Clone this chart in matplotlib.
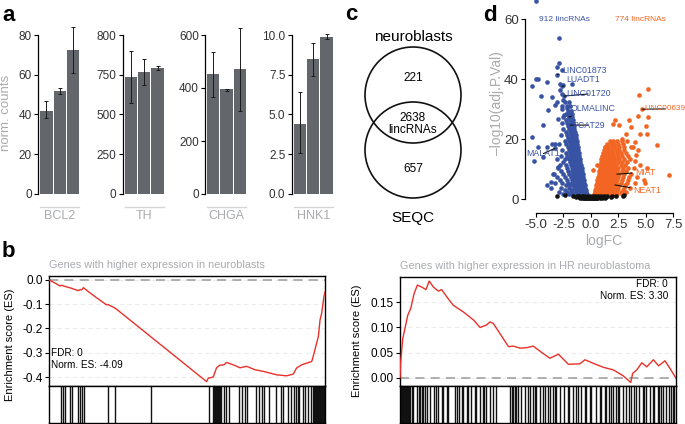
import numpy as np
import matplotlib
matplotlib.use("Agg")
import matplotlib.pyplot as plt
from matplotlib.patches import Circle

plt.rcParams['font.family'] = ['Liberation Sans', 'DejaVu Sans']

# Data: panel a (norm. counts, three samples per marker gene)
genes = ["BCL2", "TH", "CHGA", "HNK1"]
bcl2_counts = [42.0, 52.0, 72.5]
bcl2_lo = [38.0, 50.5, 61.0]
bcl2_hi = [47.0, 53.5, 84.0]
th_counts = [736, 753, 758]
th_lo = [573, 685, 756]
th_hi = [780, 770, 761]
chga_counts = [453, 395, 472]
chga_lo = [366, 390, 313]
chga_hi = [536, 398, 626]
hnk1_counts = [4.4, 8.5, 9.9]
hnk1_lo = [2.6, 7.45, 9.75]
hnk1_hi = [6.4, 9.5, 10.05]

# Data: panel b (running enrichment score vs gene rank out of 1000)
nb_rank = [0, 20, 40, 45, 58, 80, 100, 106, 113, 118, 125, 142, 173, 209, 213,
           239, 245, 571, 577, 595, 607, 619, 634, 643, 668, 692, 716, 746, 777,
           825, 861, 885, 897, 915, 952, 957, 976, 982, 988, 996, 1000]
nb_es = [0.0, -0.012, -0.025, -0.022, -0.027, -0.034, -0.042, -0.044, -0.040,
         -0.041, -0.032, -0.048, -0.074, -0.103, -0.101, -0.116, -0.121, -0.419,
         -0.405, -0.400, -0.362, -0.351, -0.350, -0.340, -0.350, -0.362, -0.356,
         -0.370, -0.377, -0.391, -0.395, -0.388, -0.363, -0.350, -0.336, -0.316,
         -0.233, -0.165, -0.137, -0.069, -0.050]
nb_hits = [42, 51, 57, 75, 82, 105, 112, 121, 125, 212, 238, 370, 578, 593, 598,
           601, 604, 607, 610, 613, 616, 619, 623, 635, 641, 651, 689, 701, 711,
           717, 750, 762, 771, 780, 798, 822, 840, 849, 865, 877, 889, 895, 901,
           907, 919, 929, 937, 949, 958, 961, 964, 967, 970, 973, 976, 979, 982,
           985, 988, 991, 994, 997, 1000]

hr_rank = [0, 2, 10, 18, 28, 39, 51, 63, 79, 94, 106, 121, 139, 151, 169, 193,
           229, 266, 290, 314, 326, 338, 362, 393, 411, 435, 459, 483, 507, 543,
           574, 610, 652, 670, 700, 737, 773, 809, 836, 843, 858, 876, 894, 918,
           937, 960, 978, 996, 1000]
hr_es = [0.0, 0.029, 0.078, 0.098, 0.124, 0.138, 0.167, 0.184, 0.180, 0.175,
         0.192, 0.180, 0.172, 0.175, 0.161, 0.144, 0.131, 0.115, 0.100, 0.105,
         0.111, 0.108, 0.088, 0.062, 0.063, 0.059, 0.060, 0.063, 0.053, 0.039,
         0.047, 0.027, 0.028, 0.036, 0.029, 0.021, 0.016, 0.004, -0.009, 0.009,
         0.016, 0.030, 0.022, 0.036, 0.024, 0.034, 0.019, 0.003, 0.0]
hr_hits = [3, 6, 10, 13, 17, 21, 24, 28, 31, 36, 42, 48, 63, 68, 72, 78, 85, 90,
           99, 108, 123, 130, 139, 151, 157, 169, 175, 199, 205, 215, 223, 229,
           241, 247, 259, 271, 277, 289, 299, 304, 313, 325, 337, 349, 398, 404,
           410, 416, 422, 428, 440, 452, 462, 470, 482, 488, 494, 506, 518, 524,
           536, 542, 554, 560, 566, 578, 596, 609, 614, 627, 639, 645, 657, 669,
           675, 687, 693, 711, 723, 729, 741, 747, 759, 765, 771, 783, 789, 795,
           807, 819, 831, 837, 849, 855, 867, 880, 885, 892, 904, 916, 922, 934,
           940, 946, 952, 964, 976, 982, 988, 994]

# Data: panel c
venn_sets = ["neuroblasts", "SEQC"]
venn_counts = [221, 2638, 657]

# Data: panel d (logFC, -log10 adj. p)
blue_pts = np.array([
    [-5.0, 66.0], [-2.92, 53.9], [-2.92, 45.4], [-3.13, 44.1], [-3.05, 41.6], [-2.67, 43.0],
    [-4.8, 40.0], [-5.0, 40.2], [-5.4, 37.7], [-4.04, 39.0], [-2.83, 38.5], [-2.58, 38.2],
    [-2.6, 37.6], [-1.76, 38.5], [-4.5, 34.3], [-3.58, 34.1], [-2.83, 36.3], [-2.67, 35.2],
    [-2.45, 34.4], [-3.13, 32.4], [-2.58, 33.0], [-3.88, 29.7], [-3.28, 31.3], [-2.67, 30.2],
    [-2.16, 30.5], [-2.46, 28.0], [-2.0, 27.4], [-3.0, 26.6], [-4.35, 24.7], [-1.9, 24.7],
    [-5.4, 20.8], [-4.8, 17.4], [-4.04, 17.4], [-3.58, 18.5], [-5.17, 12.7], [-4.35, 14.2],
    [-3.28, 18.5], [-3.67, 5.8], [-3.43, 8.5], [-3.0, 10.8], [-4.04, 4.7], [-3.3, 16.9],
    [-0.35, 1.6], [-0.5, 1.6], [-0.65, 1.6], [-0.8, 1.6], [-0.95, 1.6], [-1.1, 1.6], [-1.3, 1.6], [-1.6, 1.6], [-2.0, 1.6], [-2.5, 1.6],
    [-0.4, 2.3], [-0.55, 2.3], [-0.7, 2.3], [-0.85, 2.3], [-1.0, 2.3], [-1.15, 2.3], [-1.35, 2.3], [-1.7, 2.3], [-2.2, 2.3], [-2.9, 2.3],
    [-0.45, 3.0], [-0.6, 3.0], [-0.75, 3.0], [-0.9, 3.0], [-1.05, 3.0], [-1.2, 3.0], [-1.4, 3.0], [-1.8, 3.0], [-2.4, 3.0],
    [-0.5, 3.8], [-0.65, 3.8], [-0.8, 3.8], [-0.95, 3.8], [-1.1, 3.8], [-1.3, 3.8], [-1.55, 3.8], [-2.0, 3.8], [-2.7, 3.8], [-3.6, 3.8],
    [-0.55, 4.6], [-0.7, 4.6], [-0.85, 4.6], [-1.0, 4.6], [-1.15, 4.6], [-1.35, 4.6], [-1.6, 4.6], [-1.9, 4.6], [-2.3, 4.6],
    [-0.6, 5.5], [-0.75, 5.5], [-0.9, 5.5], [-1.05, 5.5], [-1.2, 5.5], [-1.4, 5.5], [-1.7, 5.5], [-2.1, 5.5], [-2.6, 5.5], [-3.3, 5.5],
    [-0.65, 6.5], [-0.8, 6.5], [-0.95, 6.5], [-1.1, 6.5], [-1.25, 6.5], [-1.45, 6.5], [-1.75, 6.5], [-2.2, 6.5], [-2.8, 6.5],
    [-0.7, 7.5], [-0.85, 7.5], [-1.0, 7.5], [-1.15, 7.5], [-1.3, 7.5], [-1.5, 7.5], [-1.8, 7.5], [-2.4, 7.5], [-3.1, 7.5],
    [-0.75, 8.5], [-0.9, 8.5], [-1.05, 8.5], [-1.2, 8.5], [-1.4, 8.5], [-1.6, 8.5], [-1.95, 8.5], [-2.5, 8.5], [-3.4, 8.5],
    [-0.8, 9.5], [-0.95, 9.5], [-1.1, 9.5], [-1.25, 9.5], [-1.45, 9.5], [-1.7, 9.5], [-2.1, 9.5], [-2.7, 9.5],
    [-0.85, 10.5], [-1.0, 10.5], [-1.15, 10.5], [-1.3, 10.5], [-1.5, 10.5], [-1.75, 10.5], [-2.2, 10.5], [-3.0, 10.5],
    [-0.9, 11.5], [-1.05, 11.5], [-1.2, 11.5], [-1.35, 11.5], [-1.55, 11.5], [-1.85, 11.5], [-2.3, 11.5], [-2.8, 11.5],
    [-0.95, 12.5], [-1.1, 12.5], [-1.25, 12.5], [-1.4, 12.5], [-1.6, 12.5], [-1.9, 12.5], [-2.5, 12.5],
    [-1.0, 13.5], [-1.15, 13.5], [-1.3, 13.5], [-1.5, 13.5], [-1.7, 13.5], [-2.0, 13.5], [-2.4, 13.5], [-3.1, 13.5],
    [-1.05, 14.5], [-1.2, 14.5], [-1.35, 14.5], [-1.55, 14.5], [-1.8, 14.5], [-2.2, 14.5], [-2.7, 14.5],
    [-1.1, 15.5], [-1.25, 15.5], [-1.45, 15.5], [-1.65, 15.5], [-1.9, 15.5], [-2.3, 15.5],
    [-1.15, 16.5], [-1.3, 16.5], [-1.5, 16.5], [-1.7, 16.5], [-2.0, 16.5], [-2.6, 16.5],
    [-1.2, 17.5], [-1.35, 17.5], [-1.55, 17.5], [-1.8, 17.5], [-2.1, 17.5],
    [-1.25, 18.5], [-1.45, 18.5], [-1.65, 18.5], [-1.9, 18.5], [-2.3, 18.5], [-2.9, 18.5],
    [-1.3, 19.5], [-1.5, 19.5], [-1.7, 19.5], [-2.0, 19.5], [-2.4, 19.5],
    [-1.35, 20.5], [-1.55, 20.5], [-1.8, 20.5], [-2.1, 20.5],
    [-1.4, 21.5], [-1.6, 21.5], [-1.85, 21.5], [-2.2, 21.5], [-2.7, 21.5],
    [-1.45, 22.5], [-1.65, 22.5], [-1.9, 22.5], [-2.3, 22.5],
    [-1.5, 23.5], [-1.7, 23.5], [-1.95, 23.5], [-2.5, 23.5],
    [-1.55, 24.5], [-1.8, 24.5], [-2.05, 24.5],
    [-1.6, 25.5], [-1.85, 25.5], [-2.2, 25.5], [-2.6, 25.5],
    [-1.65, 26.5], [-1.9, 26.5], [-2.3, 26.5],
    [-1.7, 27.5], [-1.95, 27.5], [-2.5, 27.5],
    [-1.75, 28.5], [-2.0, 28.5], [-2.3, 28.5],
    [-1.8, 29.5], [-2.1, 29.5],
    [-1.9, 31.0], [-2.2, 31.0], [-2.6, 31.0],
    [-2.0, 32.5], [-2.4, 32.5],
])

orange_pts = np.array([
    [5.17, 36.9], [4.41, 34.7], [4.68, 30.0], [5.22, 27.4], [4.3, 27.6], [2.19, 26.3],
    [1.98, 25.2], [2.6, 24.7], [3.65, 24.2], [3.5, 26.3], [5.0, 24.3], [4.47, 21.7],
    [5.07, 21.7], [5.99, 18.0], [7.14, 8.0], [4.8, 6.3], [4.95, 5.2], [3.16, 21.7],
    [2.8, 20.0], [3.99, 19.0], [4.14, 14.7], [3.99, 12.8], [4.47, 11.4], [5.07, 10.3],
    [1.28, 17.4], [1.58, 15.8], [0.52, 11.3], [0.21, 9.7], [4.3, 16.5], [3.8, 17.5],
    [0.3, 1.6], [0.45, 1.6], [0.6, 1.6], [0.75, 1.6], [0.9, 1.6], [1.05, 1.6], [1.2, 1.6], [1.4, 1.6], [1.6, 1.6], [1.8, 1.6], [2.1, 1.6], [2.4, 1.6], [2.8, 1.6],
    [0.35, 2.3], [0.5, 2.3], [0.65, 2.3], [0.8, 2.3], [0.95, 2.3], [1.1, 2.3], [1.3, 2.3], [1.5, 2.3], [1.7, 2.3], [2.0, 2.3], [2.3, 2.3], [2.7, 2.3], [3.2, 2.3],
    [0.4, 3.0], [0.55, 3.0], [0.7, 3.0], [0.85, 3.0], [1.0, 3.0], [1.15, 3.0], [1.35, 3.0], [1.55, 3.0], [1.8, 3.0], [2.05, 3.0], [2.4, 3.0], [2.9, 3.0],
    [0.45, 3.8], [0.6, 3.8], [0.75, 3.8], [0.9, 3.8], [1.05, 3.8], [1.2, 3.8], [1.4, 3.8], [1.6, 3.8], [1.85, 3.8], [2.1, 3.8], [2.5, 3.8], [3.0, 3.8], [3.6, 3.8],
    [0.5, 4.6], [0.65, 4.6], [0.8, 4.6], [0.95, 4.6], [1.1, 4.6], [1.3, 4.6], [1.5, 4.6], [1.7, 4.6], [1.95, 4.6], [2.2, 4.6], [2.6, 4.6], [3.1, 4.6],
    [0.55, 5.5], [0.7, 5.5], [0.85, 5.5], [1.0, 5.5], [1.15, 5.5], [1.35, 5.5], [1.55, 5.5], [1.75, 5.5], [2.0, 5.5], [2.3, 5.5], [2.7, 5.5], [3.3, 5.5], [4.0, 5.5],
    [0.6, 6.5], [0.75, 6.5], [0.9, 6.5], [1.05, 6.5], [1.2, 6.5], [1.4, 6.5], [1.6, 6.5], [1.85, 6.5], [2.1, 6.5], [2.4, 6.5], [2.8, 6.5], [3.4, 6.5],
    [0.65, 7.5], [0.8, 7.5], [0.95, 7.5], [1.1, 7.5], [1.3, 7.5], [1.5, 7.5], [1.7, 7.5], [1.95, 7.5], [2.2, 7.5], [2.5, 7.5], [2.9, 7.5], [3.5, 7.5], [4.2, 7.5],
    [0.7, 8.5], [0.85, 8.5], [1.0, 8.5], [1.15, 8.5], [1.35, 8.5], [1.55, 8.5], [1.8, 8.5], [2.0, 8.5], [2.3, 8.5], [2.6, 8.5], [3.0, 8.5], [3.7, 8.5],
    [0.75, 9.5], [0.9, 9.5], [1.05, 9.5], [1.2, 9.5], [1.4, 9.5], [1.6, 9.5], [1.85, 9.5], [2.1, 9.5], [2.4, 9.5], [2.8, 9.5], [3.2, 9.5],
    [0.8, 10.5], [0.95, 10.5], [1.1, 10.5], [1.3, 10.5], [1.5, 10.5], [1.7, 10.5], [1.95, 10.5], [2.2, 10.5], [2.5, 10.5], [2.9, 10.5], [3.4, 10.5], [3.9, 10.5],
    [0.85, 11.5], [1.0, 11.5], [1.2, 11.5], [1.4, 11.5], [1.6, 11.5], [1.8, 11.5], [2.05, 11.5], [2.3, 11.5], [2.7, 11.5], [3.1, 11.5],
    [0.9, 12.5], [1.05, 12.5], [1.25, 12.5], [1.45, 12.5], [1.7, 12.5], [1.9, 12.5], [2.15, 12.5], [2.45, 12.5], [2.8, 12.5], [3.3, 12.5],
    [0.95, 13.5], [1.15, 13.5], [1.35, 13.5], [1.55, 13.5], [1.75, 13.5], [2.0, 13.5], [2.3, 13.5], [2.6, 13.5], [3.0, 13.5], [3.6, 13.5],
    [1.0, 14.5], [1.2, 14.5], [1.4, 14.5], [1.65, 14.5], [1.9, 14.5], [2.15, 14.5], [2.45, 14.5], [2.8, 14.5], [3.4, 14.5],
    [1.1, 15.5], [1.3, 15.5], [1.55, 15.5], [1.8, 15.5], [2.05, 15.5], [2.35, 15.5], [2.7, 15.5], [3.2, 15.5],
    [1.2, 16.5], [1.45, 16.5], [1.7, 16.5], [1.95, 16.5], [2.25, 16.5], [2.6, 16.5], [3.0, 16.5],
    [1.3, 17.5], [1.6, 17.5], [1.9, 17.5], [2.2, 17.5], [2.55, 17.5], [3.0, 17.5], [3.7, 17.5],
    [1.5, 18.5], [1.8, 18.5], [2.1, 18.5], [2.45, 18.5], [2.9, 18.5],
    [1.7, 19.5], [2.0, 19.5], [2.4, 19.5], [2.8, 19.5], [3.3, 19.5],
])

black_pts = np.array([
    [-0.6, 0.2], [-0.45, 0.2], [-0.3, 0.2], [-0.15, 0.2], [0.0, 0.2], [0.15, 0.2], [0.3, 0.2], [0.45, 0.2], [0.6, 0.2],
    [-1.0, 0.5], [-0.8, 0.5], [-0.6, 0.5], [-0.4, 0.5], [-0.2, 0.5], [0.0, 0.5], [0.2, 0.5], [0.4, 0.5], [0.6, 0.5], [0.8, 0.5], [1.0, 0.5], [1.3, 0.5],
    [-1.4, 0.8], [-1.1, 0.8], [-0.9, 0.8], [-0.7, 0.8], [-0.5, 0.8], [-0.3, 0.8], [-0.1, 0.8], [0.1, 0.8], [0.3, 0.8], [0.5, 0.8], [0.7, 0.8], [0.9, 0.8], [1.1, 0.8], [1.4, 0.8], [1.8, 0.8],
    [-1.6, 1.1], [-1.3, 1.1], [-1.05, 1.1], [-0.85, 1.1], [-0.6, 1.1], [-0.35, 1.1], [-0.1, 1.1], [0.15, 1.1], [0.4, 1.1], [0.65, 1.1], [0.9, 1.1], [1.2, 1.1], [1.5, 1.1], [1.9, 1.1], [2.3, 1.1], [2.9, 1.1],
    [-3.13, 1.0], [-2.4, 1.2], [3.0, 1.3],
])

blue_labels = ["LINC01873", "LUADT1", "LINC01720", "OLMALINC", "PCAT29", "MALAT1"]
blue_label_pts = [(-3.05, 41.6), (-2.6, 37.6), (-2.45, 34.4), (-2.0, 27.4), (-1.9, 24.7), (-3.3, 16.9)]
blue_label_txt = [(-2.65, 43.0), (-2.2, 39.9), (-2.28, 35.1), (-1.82, 30.1), (-1.73, 24.7), (-5.85, 15.2)]
orange_labels = ["LINC00639", "MIAT", "NEAT1"]
orange_label_pts = [(4.68, 30.0), (2.37, 8.3), (2.19, 4.7)]
orange_label_txt = [(4.9, 30.1), (4.0, 9.0), (3.83, 2.8)]
n_down, n_up = 912, 774

BAR_GREY = "#63666a"
LIGHT = "#a9abae"
BLUE = "#3953a4"
ORANGE = "#f26522"
RED = "#e8312a"
W, H = 685, 424


def px_axes(fig, l, t, r, b):
    """Axes placed by pixel box of the 685x424 canvas."""
    return fig.add_axes([l / W, 1 - b / H, (r - l) / W, (b - t) / H])


def bar_panel(fig, spine_x, gene, vals, lo, hi, ticks, labels, top):
    ax = px_axes(fig, spine_x, 35, spine_x + 42.3, 194)
    x = np.arange(3)
    ax.bar(x, vals, width=0.93, color=BAR_GREY)
    yerr = [np.subtract(vals, lo), np.subtract(hi, vals)]
    eb = ax.errorbar(x, vals, yerr=yerr, fmt='none', ecolor='#1a1a1a',
                     elinewidth=0.7, capsize=1.3, capthick=0.7)
    for a in list(eb[1]) + list(eb[2]):
        a.set_clip_on(False)
    ax.set_xlim(-0.61, 2.55)
    ax.set_ylim(0, top)
    ax.set_yticks(ticks)
    ax.set_yticklabels(labels)
    for s in ["top", "right"]:
        ax.spines[s].set_visible(False)
    ax.spines["left"].set_bounds(0, top)
    ax.spines["left"].set_linewidth(0.9)
    ax.spines["bottom"].set_position(("outward", 9.3))
    ax.spines["bottom"].set_bounds(-0.465, 2.465)
    ax.spines["bottom"].set_color("#d4d5d6")
    ax.spines["bottom"].set_linewidth(1.0)
    ax.set_xticks([1])
    ax.set_xticklabels([gene])
    ax.tick_params(axis="x", length=0, pad=2.5, labelsize=9, labelcolor=LIGHT)
    ax.tick_params(axis="y", length=3, width=0.8, pad=1.5, labelsize=8.5,
                   labelcolor="#333333")
    return ax


def gsea_panel(fig, box, ranks, es, hits, ylim, yticks, fmt, title):
    l, t, r, b, bb = box
    ax = px_axes(fig, l, t, r, b)
    ax.plot(ranks, es, color=RED, lw=1.0, zorder=3)
    ax.axhline(0, color="#9a9a9a", lw=1.1, ls=(0, (6, 4)), zorder=2)
    ax.set_xlim(0, 1000)
    ax.set_ylim(*ylim)
    ax.set_yticks(yticks)
    ax.set_yticklabels([fmt % v for v in yticks])
    ax.yaxis.grid(True, color="#ececec", lw=0.8, ls=(0, (4, 3)))
    ax.set_axisbelow(True)
    ax.set_xticks([])
    ax.tick_params(axis="y", length=3, width=0.8, pad=1.5, labelsize=8.5)
    ax.set_title(title, loc="left", fontsize=7.8, color=LIGHT, pad=6)
    for s in ax.spines.values():
        s.set_linewidth(1.0)
    axb = px_axes(fig, l, b, r, bb)
    axb.vlines(hits, 0, 1, color="#111111", lw=1.0)
    axb.set_xlim(0, 1000)
    axb.set_ylim(0, 1)
    axb.set_xticks([])
    axb.set_yticks([])
    for s in axb.spines.values():
        s.set_linewidth(1.0)
    return ax


def main():
    fig = plt.figure(figsize=(6.85, 4.24), dpi=100)

    # Panel letters
    for letter, (x, y) in zip("abcd", [(2, 21), (2, 257), (345, 20), (483, 21)]):
        fig.text(x / W, 1 - y / H, letter, fontsize=16, fontweight="bold",
                 va="baseline", ha="left")

    # a: marker gene counts
    bar_panel(fig, 38.3, genes[0], bcl2_counts, bcl2_lo, bcl2_hi,
              [0, 20, 40, 60, 80], ["0", "20", "40", "60", "80"], 80)
    ax_th = bar_panel(fig, 122.7, genes[1], th_counts, th_lo, th_hi,
                      [0, 250, 500, 750, 800], ["0", "250", "500", "750", "800"], 800)

    def th_fwd(v):
        v = np.asarray(v, float)
        return np.where(v <= 750, v / 250.0, 3 + (v - 750) / 50.0)

    def th_inv(u):
        u = np.asarray(u, float)
        return np.where(u <= 3, u * 250.0, 750 + (u - 3) * 50.0)

    ax_th.set_yscale("function", functions=(th_fwd, th_inv))
    ax_th.set_ylim(0, 800)
    ax_th.set_yticks([0, 250, 500, 750, 800])
    ax_th.set_yticklabels(["0", "250", "500", "750", "800"])
    ax_th.yaxis.set_minor_locator(matplotlib.ticker.NullLocator())
    ax_th.spines["left"].set_bounds(0, 800)

    bar_panel(fig, 205.0, genes[2], chga_counts, chga_lo, chga_hi,
              [0, 200, 400, 600], ["0", "200", "400", "600"], 600)
    bar_panel(fig, 291.7, genes[3], hnk1_counts, hnk1_lo, hnk1_hi,
              [0, 2.5, 5, 7.5, 10], ["0.0", "2.5", "5.0", "7.5", "10.0"], 10)
    fig.text(6 / W, 1 - 113 / H, "norm. counts", rotation=90, fontsize=9.5,
             color=LIGHT, ha="center", va="center")

    # b: GSEA running enrichment scores
    gsea_panel(fig, (49, 276, 325, 386, 423), nb_rank, nb_es, nb_hits,
               (-0.437, 0.016), [0.0, -0.1, -0.2, -0.3, -0.4], "%.1f",
               "Genes with higher expression in neuroblasts")
    fig.text(51 / W, 1 - 359 / H, "FDR: 0\nNorm. ES: -4.09", fontsize=7.2,
             ha="left", va="center", linespacing=1.15)
    gsea_panel(fig, (400, 277, 676, 386, 423), hr_rank, hr_es, hr_hits,
               (-0.016, 0.2), [0.0, 0.05, 0.10, 0.15], "%.2f",
               "Genes with higher expression in HR neuroblastoma")
    fig.text(668 / W, 1 - 290 / H, "FDR: 0\nNorm. ES: 3.30", fontsize=7.2,
             ha="right", va="center", linespacing=1.15)
    fig.text(10 / W, 1 - 345 / H, "Enrichment score (ES)", rotation=90,
             fontsize=8, ha="center", va="center")
    fig.text(357 / W, 1 - 341 / H, "Enrichment score (ES)", rotation=90,
             fontsize=8, ha="center", va="center")

    # c: Venn diagram
    axv = px_axes(fig, 360, 25, 466, 230)
    axv.set_xlim(-53, 53)
    axv.set_ylim(-102.5, 102.5)
    axv.set_aspect("equal")
    axv.axis("off")
    axv.add_patch(Circle((0, 32.5), 48, fill=False, ec="#111111", lw=1.2))
    axv.add_patch(Circle((0, -22.5), 48, fill=False, ec="#111111", lw=1.2))
    axv.text(0, 90.5, venn_sets[0], fontsize=11, ha="center", va="center")
    axv.text(0, 49.5, str(venn_counts[0]), fontsize=8.5, ha="center", va="center")
    axv.text(0, 3.5, "%d\nlincRNAs" % venn_counts[1], fontsize=8.5,
             ha="center", va="center", linespacing=1.1)
    axv.text(0, -41.5, str(venn_counts[2]), fontsize=8.5, ha="center", va="center")
    axv.text(0, -90.5, venn_sets[1], fontsize=11, ha="center", va="center")

    # d: volcano
    ax = px_axes(fig, 525, 0, 682, 205)
    ax.scatter(blue_pts[:, 0], blue_pts[:, 1], s=11, color=BLUE, lw=0, zorder=2)
    ax.scatter(orange_pts[:, 0], orange_pts[:, 1], s=11, color=ORANGE, lw=0, zorder=2)
    ax.scatter(black_pts[:, 0], black_pts[:, 1], s=11, color="#111111", lw=0, zorder=3)
    ax.set_xlim(-6.0, 8.3)
    ax.set_ylim(-2.0, 66.5)
    for s in ["top", "right"]:
        ax.spines[s].set_visible(False)
    ax.spines["left"].set_bounds(0, 60)
    ax.spines["bottom"].set_position(("outward", 5.8))
    ax.spines["bottom"].set_bounds(-5, 7.5)
    for s in ["left", "bottom"]:
        ax.spines[s].set_linewidth(0.9)
    ax.set_yticks([0, 20, 40, 60])
    ax.set_xticks([-5, -2.5, 0, 2.5, 5, 7.5])
    ax.set_xticklabels(["-5.0", "-2.5", "0.0", "2.5", "5.0", "7.5"])
    ax.tick_params(length=3, width=0.8, pad=1.5, labelsize=9.5, labelcolor="#333333")
    ax.set_xlabel("logFC", fontsize=10, color=LIGHT, labelpad=2)
    fig.text(497 / W, 1 - 103 / H, "\u2013log10(adj.P.Val)", rotation=90,
             fontsize=10, color=LIGHT, ha="center", va="center")
    ax.text(-2.37, 59.9, "%d lincRNAs" % n_down, color=BLUE, fontsize=6,
            ha="center", va="center")
    ax.text(4.5, 59.9, "%d lincRNAs" % n_up, color=ORANGE, fontsize=6,
            ha="center", va="center")
    for name, xy, xt in zip(blue_labels, blue_label_pts, blue_label_txt):
        ax.annotate(name, xy=xy, xytext=xt, color=BLUE, fontsize=6.3,
                    ha="left", va="center", zorder=4,
                    arrowprops=dict(arrowstyle="-", color="#111111", lw=0.8,
                                    shrinkA=0, shrinkB=0))
    for name, xy, xt in zip(orange_labels, orange_label_pts, orange_label_txt):
        ax.annotate(name, xy=xy, xytext=xt, color=ORANGE,
                    fontsize=5.9 if name == "LINC00639" else 6.3,
                    ha="left", va="center", zorder=4,
                    arrowprops=dict(arrowstyle="-", color="#111111", lw=0.8,
                                    shrinkA=0, shrinkB=0))

    fig.savefig("out.png", dpi=100)


if __name__ == "__main__":
    main()
